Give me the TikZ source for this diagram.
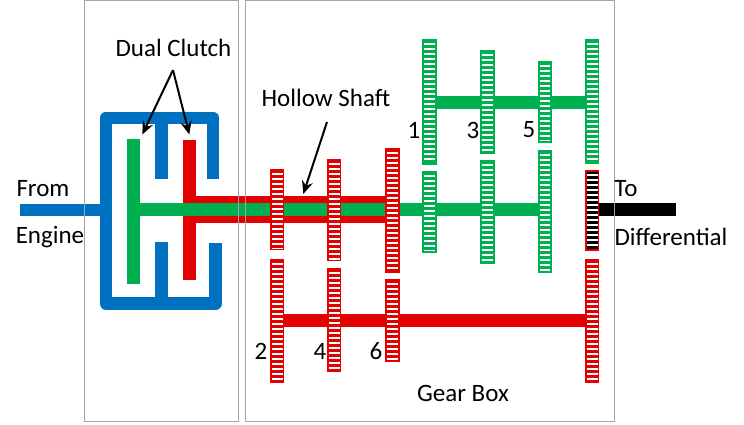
\documentclass[tikz,border=0pt]{standalone}
\usepackage{fontspec}
\setmainfont{Carlito}
\usepackage{xcolor}
\usetikzlibrary{arrows.meta,positioning}
\definecolor{dcblue}{RGB}{0,112,192}
\definecolor{dcgreen}{RGB}{0,176,80}
\definecolor{dcred}{RGB}{226,0,0}
\definecolor{dcgray}{RGB}{166,166,166}
\tikzstyle{arrow} = [line width=2pt,-{Stealth[length=13pt,width=11pt]},color=black]
\tikzstyle{label} = [font=\fontsize{25}{30}\selectfont,text=black,inner sep=0pt]
\tikzstyle{panel} = [draw=dcgray,line width=1pt]
\tikzstyle{shaft} = [line width=12.8pt]
% x0, y0, x1, y1, border colour, stripe colour
\newcommand{\gearbar}[6]{
  \fill[white] (#1,#2) rectangle (#3,#4);
  \pgfmathsetmacro{\gearnext}{#2+5}
  \pgfmathsetmacro{\gearlast}{#4-2}
  \foreach \gy in {#2,\gearnext,...,\gearlast}
    \fill[#6] (#1,\gy) rectangle (#3,\gy+2.7);
  \draw[#5,line width=1.3pt] (#1,#2) rectangle (#3,#4);
}
\begin{document}
\begin{tikzpicture}[x=1pt,y=-1pt]
\useasboundingbox (0,0) rectangle (744,424);

% Input shaft and clutch housing
\draw[shaft,dcblue] (19.5,210) -- (106,210);
\draw[shaft,dcblue,line join=round] (213,179) -- (213,118) -- (106,118) -- (106,303.5) -- (215.5,303.5) -- (215.5,243);
\draw[shaft,dcblue] (161.5,118) -- (161.5,178.5);
\draw[shaft,dcblue] (161.5,242) -- (161.5,303.5);

% Hollow shaft and inner shaft
\fill[dcred] (183,140) rectangle (196,279.5);
\fill[dcred] (183,196) rectangle (392,223);
\fill[dcgreen] (127,138.5) rectangle (140,283.5);
\fill[dcgreen] (140,203) rectangle (545,216);

% Lay shafts
\fill[dcgreen] (430,96) rectangle (592,108.7);
\fill[dcred] (277,314) rectangle (592,326.7);
\fill[black] (592,203) rectangle (675.5,216);

% Gears
\gearbar{271}{170}{283.5}{249.5}{dcred}{dcred}
\gearbar{328}{160}{340.5}{260.5}{dcred}{dcred}
\gearbar{386}{149}{399}{272.5}{dcred}{dcred}
\gearbar{271}{260}{283.5}{382}{dcred}{dcred}
\gearbar{328}{269}{340.5}{371}{dcred}{dcred}
\gearbar{386}{280}{399}{361}{dcred}{dcred}
\gearbar{586}{260}{598.5}{382}{dcred}{dcred}
\gearbar{423}{40}{436}{164}{dcgreen}{dcgreen}
\gearbar{481}{51}{494}{153}{dcgreen}{dcgreen}
\gearbar{539}{62}{551}{142}{dcgreen}{dcgreen}
\gearbar{586}{40}{598.5}{163}{dcgreen}{dcgreen}
\gearbar{423}{172}{436}{252}{dcgreen}{dcgreen}
\gearbar{481}{161}{494}{263}{dcgreen}{dcgreen}
\gearbar{539}{151}{551}{272}{dcgreen}{dcgreen}
\gearbar{586}{171}{598.5}{250}{dcred}{black}

% Panels
\draw[panel] (84.5,0) rectangle (238.5,421);
\draw[panel] (245.5,0) rectangle (614.5,421);

% Labels
\node[label] (dual) at (173.5,48) {Dual Clutch};
\node[label] (hollow) at (326,98) {Hollow Shaft};
\node[label] (from) at (43,189) {From};
\node[label] (engine) at (50,237) {Engine};
\node[label] (to) at (626,189) {To};
\node[label] (differential) at (671,237) {Differential};
\node[label] (gearbox) at (463,393) {Gear Box};
\node[label] (gearone) at (414,130) {1};
\node[label] (geartwo) at (261,351) {2};
\node[label] (gearthree) at (473,130) {3};
\node[label] (gearfour) at (320,351) {4};
\node[label] (gearfive) at (529,130) {5};
\node[label] (gearsix) at (376,351) {6};

% Arrows
\coordinate (dualapex) at (173,70);
\coordinate (greendisc) at (142.3,134.5);
\coordinate (reddisc) at (189.3,134.5);
\coordinate (hollowtop) at (327,122);
\coordinate (hollowtip) at (303.3,194);
\draw[arrow] (dualapex) -- (greendisc);
\draw[arrow] (dualapex) -- (reddisc);
\draw[arrow] (hollowtop) -- (hollowtip);
\end{tikzpicture}
\end{document}
